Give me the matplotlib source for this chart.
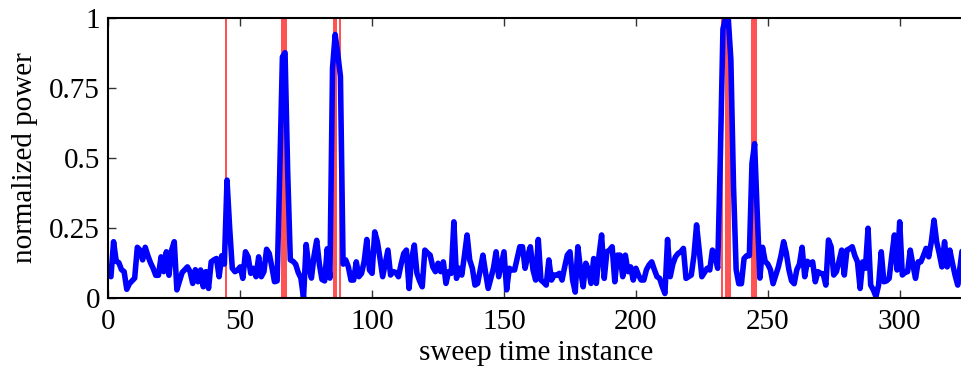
import numpy as np
import matplotlib
matplotlib.use("Agg")
import matplotlib.pyplot as plt

# Normalized received power per sweep (sweeps numbered from 1)
power = [
    0.075, 0.20, 0.13, 0.125, 0.10, 0.093, 0.03, 0.05, 0.06, 0.07,            # 1-10
    0.18, 0.17, 0.135, 0.18, 0.15, 0.125, 0.105, 0.08, 0.08, 0.146,          # 11-20
    0.093, 0.164, 0.08, 0.17, 0.20, 0.028, 0.06, 0.09, 0.10, 0.11,           # 21-30
    0.093, 0.051, 0.10, 0.057, 0.099, 0.039, 0.093, 0.033, 0.128, 0.135,     # 31-40
    0.14, 0.075, 0.15, 0.12, 0.42, 0.25, 0.105, 0.093, 0.099, 0.11,          # 41-50
    0.069, 0.164, 0.146, 0.087, 0.105, 0.075, 0.146, 0.075, 0.093, 0.173,    # 51-60
    0.158, 0.11, 0.057, 0.06, 0.45, 0.86, 0.875, 0.45, 0.135, 0.13,          # 61-70
    0.12, 0.09, 0.07, 0.0, 0.19, 0.11, 0.07, 0.15, 0.205, 0.12,              # 71-80
    0.065, 0.06, 0.175, 0.07, 0.82, 0.94, 0.87, 0.79, 0.12, 0.135,           # 81-90
    0.11, 0.063, 0.063, 0.128, 0.075, 0.087, 0.13, 0.208, 0.099, 0.087,      # 91-100
    0.235, 0.20, 0.14, 0.075, 0.123, 0.17, 0.081, 0.093, 0.09, 0.075,        # 101-110
    0.12, 0.158, 0.17, 0.033, 0.14, 0.188, 0.087, 0.06, 0.039, 0.17,         # 111-120
    0.16, 0.152, 0.11, 0.093, 0.123, 0.093, 0.128, 0.051, 0.093, 0.087,      # 121-130
    0.271, 0.069, 0.105, 0.081, 0.15, 0.224, 0.135, 0.105, 0.045, 0.051,     # 131-140
    0.10, 0.152, 0.09, 0.033, 0.069, 0.105, 0.164, 0.075, 0.12, 0.164,       # 141-150
    0.028, 0.105, 0.099, 0.099, 0.14, 0.182, 0.182, 0.105, 0.15, 0.182,      # 151-160
    0.099, 0.063, 0.208, 0.063, 0.055, 0.045, 0.135, 0.063, 0.081, 0.08,     # 161-170
    0.087, 0.063, 0.11, 0.152, 0.164, 0.063, 0.02, 0.182, 0.10, 0.039,       # 171-180
    0.123, 0.10, 0.051, 0.14, 0.051, 0.15, 0.224, 0.069, 0.164, 0.17,        # 181-190
    0.182, 0.057, 0.152, 0.152, 0.075, 0.152, 0.093, 0.11, 0.063, 0.105,     # 191-200
    0.08, 0.063, 0.063, 0.10, 0.117, 0.128, 0.10, 0.075, 0.069, 0.04,        # 201-210
    0.015, 0.208, 0.075, 0.12, 0.146, 0.158, 0.164, 0.176, 0.069, 0.075,     # 211-220
    0.081, 0.15, 0.26, 0.17, 0.075, 0.09, 0.105, 0.099, 0.17, 0.15,          # 221-230
    0.105, 0.50, 0.96, 1.0, 1.0, 0.85, 0.40, 0.10, 0.05, 0.05,               # 231-240
    0.14, 0.15, 0.15, 0.48, 0.55, 0.30, 0.07, 0.18, 0.13, 0.12,              # 241-250
    0.10, 0.05, 0.08, 0.11, 0.15, 0.20, 0.16, 0.10, 0.06, 0.05,              # 251-260
    0.10, 0.12, 0.18, 0.075, 0.13, 0.12, 0.128, 0.057, 0.093, 0.087,         # 261-270
    0.085, 0.045, 0.206, 0.182, 0.081, 0.093, 0.13, 0.17, 0.081, 0.17,       # 271-280
    0.175, 0.182, 0.15, 0.128, 0.033, 0.128, 0.105, 0.248, 0.045, 0.028,     # 281-290
    0.004, 0.045, 0.164, 0.057, 0.06, 0.069, 0.15, 0.224, 0.099, 0.271,      # 291-300
    0.081, 0.09, 0.093, 0.17, 0.117, 0.069, 0.128, 0.128, 0.15, 0.176,       # 301-310
    0.146, 0.20, 0.277, 0.20, 0.158, 0.11, 0.20, 0.11, 0.17, 0.123,          # 311-320
    0.08, 0.045, 0.12, 0.194,                                                # 321-324
]
sweep = np.arange(1, len(power) + 1)

# Sweep intervals flagged as detections
detect_start = [44.3, 65.5, 85.3, 87.5, 232.3, 233.8, 243.6]
detect_end = [44.9, 67.6, 86.6, 88.1, 232.9, 236.1, 245.8]

x_ticks = [0, 50, 100, 150, 200, 250, 300]
y_ticks = [0, 0.25, 0.5, 0.75, 1]
y_tick_labels = ["0", "0.25", "0.5", "0.75", "1"]

plt.rcParams["font.family"] = ["Liberation Serif", "DejaVu Serif"]
plt.rcParams["font.size"] = 21

fig = plt.figure(figsize=(9.61, 3.67), dpi=100)
ax = fig.add_axes([108.3 / 961, 69.3 / 367, (963 - 108.3) / 961, 280 / 367])

for s, e in zip(detect_start, detect_end):
    ax.axvspan(s, e, color="#ff5252", lw=0, zorder=1)

ax.plot(sweep, power, color="#0000ff", lw=4.0, solid_joinstyle="round",
        solid_capstyle="round", zorder=2)

ax.set_xlim(0, (963 - 108.3) / 2.638)
ax.set_ylim(0, 1)
ax.set_xticks(x_ticks)
ax.set_yticks(y_ticks)
ax.set_yticklabels(y_tick_labels)
ax.tick_params(direction="in", length=5.5, width=1.0, color="#333333",
               top=True, right=False, labelsize=21)
ax.tick_params(axis="x", pad=8)
ax.tick_params(axis="y", pad=6)
for sp in ax.spines.values():
    sp.set_linewidth(1.5)
    sp.set_zorder(3)

ax.set_xlabel("sweep time instance", labelpad=4)
ax.set_ylabel("normalized power", labelpad=8)

fig.savefig("out.png", dpi=100)
